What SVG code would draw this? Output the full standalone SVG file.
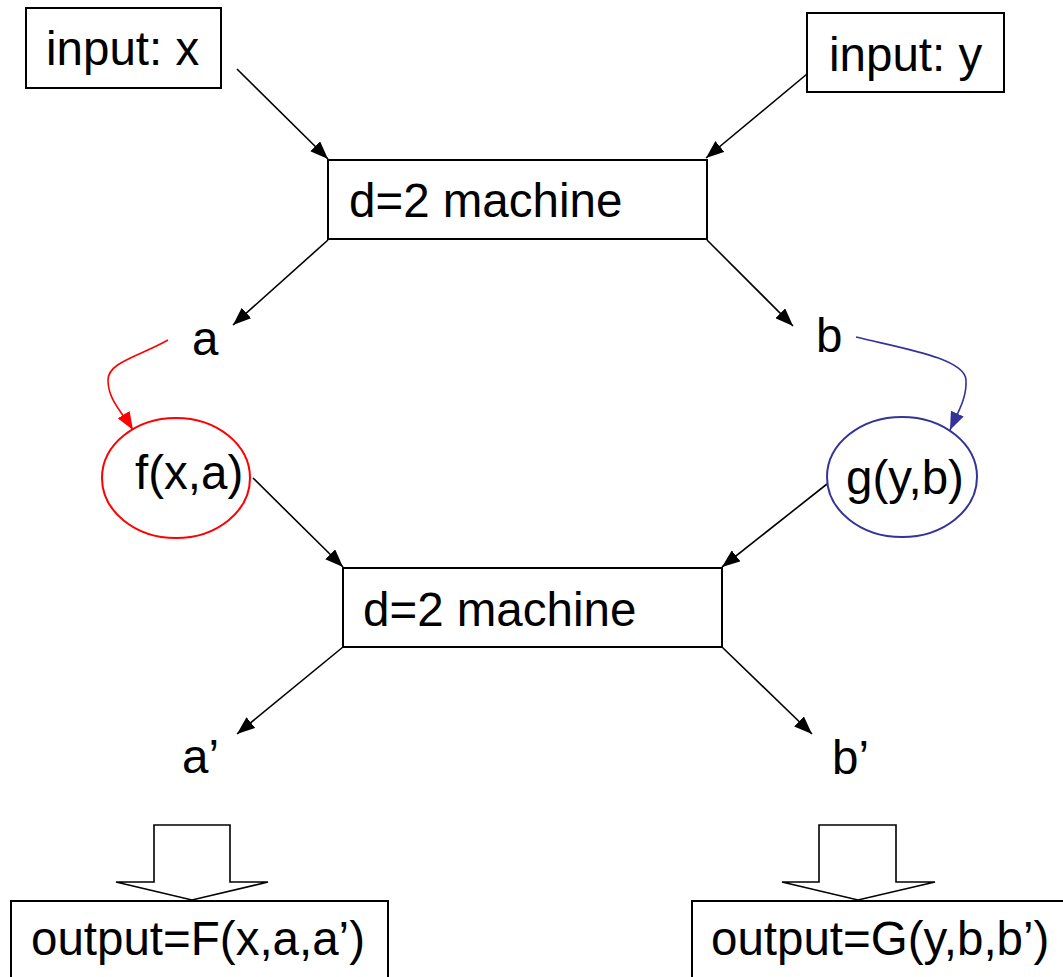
<svg xmlns="http://www.w3.org/2000/svg" width="1063" height="977" viewBox="0 0 1063 977">
  <style>
    .box { fill: #ffffff; stroke: #000000; stroke-width: 2; }
    .lbl { font-family: "Liberation Sans", Arial, sans-serif; font-size: 47.5px; fill: #000000; }
    .edge { fill: none; stroke: #000000; stroke-width: 1.6; }
    .red { fill: none; stroke: #ff0000; stroke-width: 1.6; }
    .blue { fill: none; stroke: #333399; stroke-width: 1.6; }
    .block { fill: #ffffff; stroke: #000000; stroke-width: 1.6; }
  </style>
  <defs>
    <marker id="arrowBlack" markerUnits="userSpaceOnUse" markerWidth="20" markerHeight="14" refX="18" refY="7" orient="auto">
      <path d="M0,0 L18,7 L0,14 z" fill="#000000"/>
    </marker>
    <marker id="arrowRed" markerUnits="userSpaceOnUse" markerWidth="20" markerHeight="14" refX="18" refY="7" orient="auto">
      <path d="M0,0 L18,7 L0,14 z" fill="#ff0000"/>
    </marker>
    <marker id="arrowBlue" markerUnits="userSpaceOnUse" markerWidth="20" markerHeight="14" refX="18" refY="7" orient="auto">
      <path d="M0,0 L18,7 L0,14 z" fill="#333399"/>
    </marker>
  </defs>

  <rect width="1063" height="977" fill="#ffffff"/>

  <!-- connectors -->
  <g id="connectors">
    <line class="edge" x1="237" y1="69" x2="328" y2="159" marker-end="url(#arrowBlack)"/>
    <line class="edge" x1="813" y1="69" x2="706" y2="158" marker-end="url(#arrowBlack)"/>
    <line class="edge" x1="328" y1="240" x2="233" y2="325" marker-end="url(#arrowBlack)"/>
    <line class="edge" x1="707" y1="240" x2="793" y2="326" marker-end="url(#arrowBlack)"/>
    <path class="red" d="M168,340 C140,356 108,362 108,380 C108,400 122,412 133,430" marker-end="url(#arrowRed)"/>
    <path class="blue" d="M856,337 C900,348 965,358 966,380 C967,398 958,412 950,430" marker-end="url(#arrowBlue)"/>
    <line class="edge" x1="253" y1="478" x2="343" y2="567" marker-end="url(#arrowBlack)"/>
    <line class="edge" x1="827" y1="484" x2="722" y2="567" marker-end="url(#arrowBlack)"/>
    <line class="edge" x1="343" y1="647" x2="237" y2="734" marker-end="url(#arrowBlack)"/>
    <line class="edge" x1="722" y1="647" x2="812" y2="734" marker-end="url(#arrowBlack)"/>
    <!-- block arrows to outputs -->
    <path class="block" d="M154,825 L230,825 L230,882 L268,882 L192,900 L116,882 L154,882 Z"/>
    <path class="block" d="M819,825 L896,825 L896,882 L935,882 L858,900 L782,882 L819,882 Z"/>
  </g>

  <g id="input-x">
    <rect class="box" x="26" y="8" width="195" height="80"/>
    <text class="lbl" x="46" y="65">input: x</text>
  </g>
  <g id="input-y">
    <rect class="box" x="807" y="13" width="197" height="79"/>
    <text class="lbl" x="829" y="71">input: y</text>
  </g>
  <g id="machine-1">
    <rect class="box" x="328" y="160" width="379" height="79"/>
    <text class="lbl" x="349" y="217">d=2 machine</text>
  </g>
  <g id="label-a">
    <text class="lbl" x="192" y="355">a</text>
  </g>
  <g id="label-b">
    <text class="lbl" x="816" y="352">b</text>
  </g>
  <g id="f-xa">
    <ellipse cx="176" cy="478" rx="74" ry="60" fill="#ffffff" stroke="#ff0000" stroke-width="2"/>
    <text class="lbl" x="135" y="489">f(x,a)</text>
  </g>
  <g id="g-yb">
    <ellipse cx="902" cy="477" rx="75" ry="60" fill="#ffffff" stroke="#333399" stroke-width="2"/>
    <text class="lbl" x="846" y="494">g(y,b)</text>
  </g>
  <g id="machine-2">
    <rect class="box" x="343" y="568" width="379" height="79"/>
    <text class="lbl" x="363" y="626">d=2 machine</text>
  </g>
  <g id="label-a-prime">
    <text class="lbl" x="182" y="773">a’</text>
  </g>
  <g id="label-b-prime">
    <text class="lbl" x="832" y="774">b’</text>
  </g>
  <g id="output-F">
    <rect class="box" x="11" y="901" width="377" height="90"/>
    <text class="lbl" x="31" y="955">output=F(x,a,a’)</text>
  </g>
  <g id="output-G">
    <rect class="box" x="692" y="901" width="390" height="90"/>
    <text class="lbl" x="711" y="955">output=G(y,b,b’)</text>
  </g>
</svg>
